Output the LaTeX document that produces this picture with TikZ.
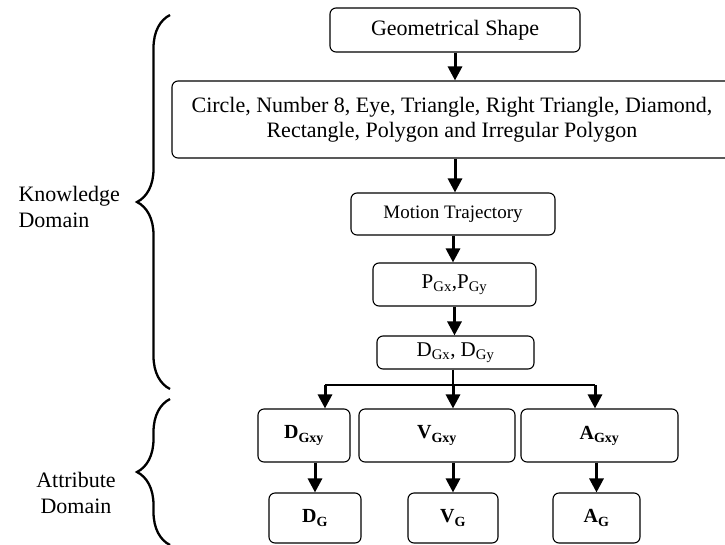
\documentclass[tikz,border=0pt]{standalone}
\usepackage{fontspec}
\setmainfont{Liberation Serif}
\usepackage{xcolor}
\usetikzlibrary{arrows.meta,decorations.pathreplacing}
\tikzset{
  box/.style={draw, rounded corners=6pt, line width=1.1pt, inner sep=0pt, align=center, font=\fontsize{22}{25}\selectfont},
  smallbox/.style={box, font=\fontsize{19}{23}\selectfont},
  posbox/.style={box, font=\fontsize{21}{25}\selectfont},
  attr/.style={box, font=\bfseries\fontsize{20}{24}\selectfont},
  arr/.style={line width=3pt, -{Triangle[length=14pt,width=14pt]}},
  bus/.style={line width=2.6pt},
  brc/.style={decorate, decoration={brace, amplitude=33pt}, line width=2.3pt},
  lbl/.style={font=\fontsize{22}{26}\selectfont}
}

\begin{document}
\begin{tikzpicture}[x=1pt, y=-1pt]
    \useasboundingbox (0,0) rectangle (725,544);

    % --- KNOWLEDGE DOMAIN ---
    \node[box, minimum width=250pt, minimum height=44pt] (geo) at (455,30) {Geometrical Shape};
    \node[box, minimum width=560pt, minimum height=77pt] (shapes) at (452,119.5)
        {Circle, Number 8, Eye, Triangle, Right Triangle, Diamond,\\ Rectangle, Polygon and Irregular Polygon};
    \node[smallbox, minimum width=204pt, minimum height=42pt] (motion) at (453,214) {Motion Trajectory};
    \node[posbox, minimum width=163pt, minimum height=43pt] (pos) at (454.5,284.5) {P\textsubscript{Gx},P\textsubscript{Gy}};
    \node[posbox, minimum width=157pt, minimum height=33pt] (disp) at (455.5,352.5) {D\textsubscript{Gx}, D\textsubscript{Gy}};

    \draw[arr] (geo.south) -- (geo.south |- shapes.north);
    \draw[arr] (shapes.south -| geo.south) -- (motion.north -| geo.south);
    \draw[arr] (motion.south) -- (motion.south |- pos.north);
    \draw[arr] (pos.south) -- (pos.south |- disp.north);

    % split into three
    \coordinate (bl) at (325,385);
    \coordinate (bm) at (453,385);
    \coordinate (br) at (595,385);
    \draw[bus] (disp.south -| bm) -- (bm);
    \draw[bus] (bl) -- (br);

    % --- ATTRIBUTE DOMAIN ---
    \node[attr, minimum width=92pt, minimum height=53pt] (dgxy) at (304,435.5) {D\textsubscript{Gxy}};
    \node[attr, minimum width=156pt, minimum height=53pt] (vgxy) at (437,435.5) {V\textsubscript{Gxy}};
    \node[attr, minimum width=157pt, minimum height=53pt] (agxy) at (599.5,435.5) {A\textsubscript{Gxy}};

    \draw[arr] (bl) -- (bl |- dgxy.north);
    \draw[arr] (bm) -- (bm |- vgxy.north);
    \draw[arr] (br) -- (br |- agxy.north);

    \node[attr, minimum width=92pt, minimum height=50pt] (dg) at (315,518) {D\textsubscript{G}};
    \node[attr, minimum width=90pt, minimum height=50pt] (vg) at (453,518) {V\textsubscript{G}};
    \node[attr, minimum width=87pt, minimum height=50pt] (ag) at (596.5,518) {A\textsubscript{G}};

    \draw[arr] (dg.north |- dgxy.south) -- (dg.north);
    \draw[arr] (vg.north |- vgxy.south) -- (vg.north);
    \draw[arr] (ag.north |- agxy.south) -- (ag.north);

    % --- BRACES ---
    \draw[brc] (170,389) -- (170,15);
    \draw[brc] (170,545) -- (170,399);
    \node[lbl, anchor=west, align=left] (know) at (15,207) {Knowledge\\Domain};
    \node[lbl, align=center] (attrib) at (76,493) {Attribute\\Domain};
\end{tikzpicture}
\end{document}
